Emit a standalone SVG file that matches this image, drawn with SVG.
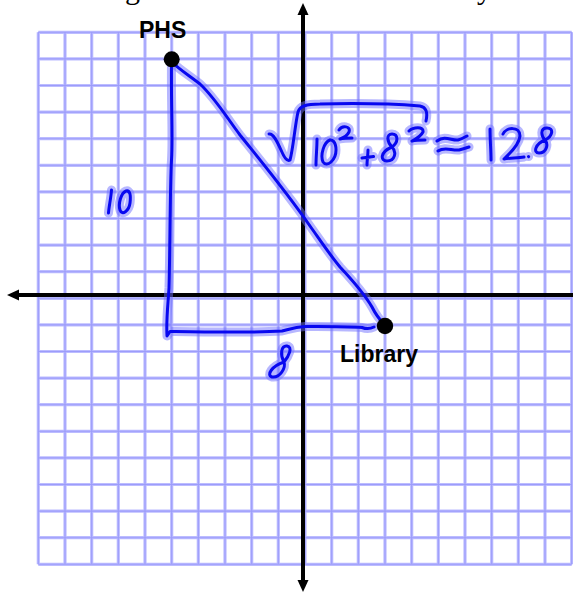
<svg xmlns="http://www.w3.org/2000/svg" xmlns:xlink="http://www.w3.org/1999/xlink" width="573" height="592" viewBox="0 0 573 592">
<style>
.grid-halo{fill:none;stroke:#bcbcff;stroke-width:3.2}
.grid-core{fill:none;stroke:#9c9cfb;stroke-width:1.1}
.axis{fill:none;stroke:#000;stroke-width:4}
.halo{fill:none;stroke:#7070ff;stroke-opacity:0.5;stroke-width:9;stroke-linecap:round;stroke-linejoin:round}
.core{fill:none;stroke:#0808f0;stroke-width:3;stroke-linecap:round;stroke-linejoin:round}
.label{font-family:"Liberation Sans",Arial,sans-serif;font-weight:bold;font-size:23px;fill:#000}
.title{font-family:"Liberation Serif","Times New Roman",serif;font-size:30px;fill:#000}
.dot{fill:#000}
</style>
<defs>
<marker id="arrow" viewBox="0 -6 12 12" refX="0" refY="0" markerWidth="12" markerHeight="12" markerUnits="userSpaceOnUse" orient="auto-start-reverse">
<path d="M0,-5.5 L12,0 L0,5.5 z" fill="#000"/>
</marker>
<g id="strokes">
<path id="s-legs" d="M171.5,62 C171,110 173,135 171.5,160 S170,255 169,288 C168,305 166,320 167,336 L170,331.5 C200,332 250,333 282,331 C290,329 295,327 305,326.5 C330,326 350,327 362,327.5 C366,329 370,329 374,327"/>
<path id="s-hyp" d="M173,63 C180,70 190,76 200,84 C215,98 225,115 240,135 C260,160 285,190 310,226 C320,240 330,255 340,267 C355,283 365,295 372,307 C376,315 380,320 384,324"/>
<path id="s-ten" d="M111.5,190 C111,198 109,206 108.5,213 M126,191 C121,193 118,204 120,210 C122,216 129,211 130,203 C131,195 130,190 126,191"/>
<path id="s-eight" d="M284,362 C289,356 293,347 287,346 C281,345 280,355 284,362 C286,368 280,378 272,377 C266,375 272,366 284,362"/>
<path id="s-root" d="M269,134 C273,133 277,141 281,150 C284,157 287,162 290,160 C293,150 295,125 298,112 C300,106 306,104 320,104 C360,103 395,104 420,106 C426,107 428,112 426,121"/>
<path id="s-expr" d="M317,139 C317,148 316,157 316,165 M330,140 C324,142 320,155 323,162 C327,168 336,160 336,150 C336,142 332,138 328,141 M339,130 C342,125 351,126 349,132 C347,136 343,138 340,139 C344,138 348,138 352,138 M368,150 C368,155 367,160 367,165 M362,158 C366,157.5 370,157 373.5,156.5 M392,147 C399,142 398,134 392,134 C386,134 387,142 392,147 C397,152 395,161 387,161 C380,161 380,152 392,147 M409,131 C413,127 424,126 423,132 C421,136 416,139 412,141 C416,140 420,140 425,140 M437,141 C445,135 452,141 458,140 C462,139 465,137 467,136 M438,151 C445,146 452,151 459,150 C463,149 466,148 469,147 M490,129 C490,140 491,150 491,160 M503,134 C506,127 520,126 520,136 C519,146 508,155 504,159 C510,158 518,158 524,157 M528.5,156.5 L528.6,156.6 M545,140 C553,136 554,128 547,128 C540,128 541,136 545,140 C549,145 546,153 539,153 C533,153 535,144 545,140"/>
</g>
</defs>
<g id="title-fragment">
<text class="title" x="125" y="-1">g</text>
<text class="title" x="477" y="-1">y</text>
</g>
<g id="grid">
<path class="grid-halo" d="M38.3,32.3V564.3M65,32.3V564.3M91.7,32.3V564.3M118.3,32.3V564.3M145,32.3V564.3M171.7,32.3V564.3M198.3,32.3V564.3M225,32.3V564.3M251.7,32.3V564.3M278.3,32.3V564.3M305,32.3V564.3M331.7,32.3V564.3M358.3,32.3V564.3M385,32.3V564.3M411.7,32.3V564.3M438.3,32.3V564.3M465,32.3V564.3M491.7,32.3V564.3M518.3,32.3V564.3M545,32.3V564.3M571.7,32.3V564.3 M38.3,32.3H571.7M38.3,58.9H571.7M38.3,85.5H571.7M38.3,112.1H571.7M38.3,138.7H571.7M38.3,165.3H571.7M38.3,191.9H571.7M38.3,218.5H571.7M38.3,245.1H571.7M38.3,271.7H571.7M38.3,298.3H571.7M38.3,324.9H571.7M38.3,351.5H571.7M38.3,378.1H571.7M38.3,404.7H571.7M38.3,431.3H571.7M38.3,457.9H571.7M38.3,484.5H571.7M38.3,511.1H571.7M38.3,537.7H571.7M38.3,564.3H571.7"/>
<path class="grid-core" d="M38.3,32.3V564.3M65,32.3V564.3M91.7,32.3V564.3M118.3,32.3V564.3M145,32.3V564.3M171.7,32.3V564.3M198.3,32.3V564.3M225,32.3V564.3M251.7,32.3V564.3M278.3,32.3V564.3M305,32.3V564.3M331.7,32.3V564.3M358.3,32.3V564.3M385,32.3V564.3M411.7,32.3V564.3M438.3,32.3V564.3M465,32.3V564.3M491.7,32.3V564.3M518.3,32.3V564.3M545,32.3V564.3M571.7,32.3V564.3 M38.3,32.3H571.7M38.3,58.9H571.7M38.3,85.5H571.7M38.3,112.1H571.7M38.3,138.7H571.7M38.3,165.3H571.7M38.3,191.9H571.7M38.3,218.5H571.7M38.3,245.1H571.7M38.3,271.7H571.7M38.3,298.3H571.7M38.3,324.9H571.7M38.3,351.5H571.7M38.3,378.1H571.7M38.3,404.7H571.7M38.3,431.3H571.7M38.3,457.9H571.7M38.3,484.5H571.7M38.3,511.1H571.7M38.3,537.7H571.7M38.3,564.3H571.7"/>
</g>
<g id="axes">
<line class="axis" x1="303" y1="15" x2="303" y2="580" marker-start="url(#arrow)" marker-end="url(#arrow)"/>
<line class="axis" x1="19" y1="295" x2="573" y2="295" marker-start="url(#arrow)"/>
</g>
<g id="ink">
<use xlink:href="#strokes" class="halo"/>
<use xlink:href="#strokes" class="core"/>
</g>
<g id="node-phs">
<circle class="dot" cx="171.7" cy="59.3" r="8"/>
<text class="label" x="139" y="37.5">PHS</text>
</g>
<g id="node-library">
<circle class="dot" cx="385" cy="326" r="8.2"/>
<text class="label" x="340" y="362">Library</text>
</g>
</svg>
